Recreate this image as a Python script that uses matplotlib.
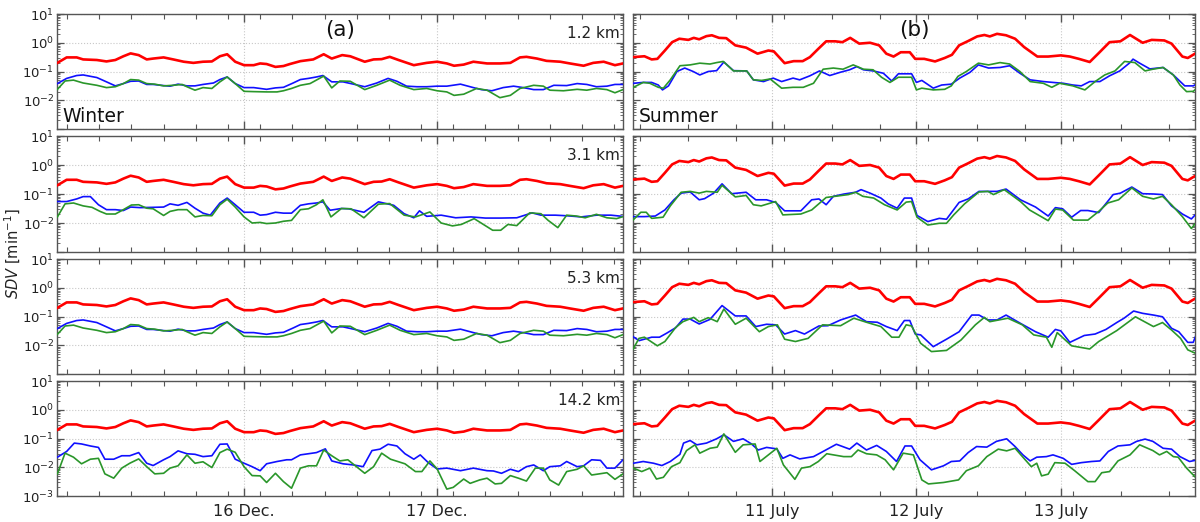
import numpy as np
import matplotlib
matplotlib.use("Agg")
import matplotlib.pyplot as plt
from matplotlib.ticker import FixedLocator, LogLocator, NullFormatter

plt.rcParams['font.family'] = ['DejaVu Sans']

# ---------------- data (time in hours from 00:00 of first day, values as log10(SDV [min^-1])) ----------
altitudes = ["1.2 km", "3.1 km", "5.3 km", "14.2 km"]
season_names = ["Winter", "Summer"]
panel_letters = ["(a)", "(b)"]
winter_day_ticks = [24, 48]
winter_day_labels = ["16 Dec.", "17 Dec."]
summer_day_ticks = [24, 48, 72]
summer_day_labels = ["11 July", "12 July", "13 July"]
winter_range = [0.75, 71.1]
summer_range = [0.9, 94.3]

# Winter: red (common to all heights)
w_red_t = [0.8,1.95,3.2,4.0,5.7,6.9,8.0,9.0,9.9,10.9,11.9,12.7,14.0,15.2,16.5,17.7,18.9,20.0,21.0,21.9,
           22.9,24.0,25.2,26.0,26.8,27.9,28.9,29.7,31.0,32.6,33.9,34.9,36.2,37.2,39.0,40.1,41.1,42.1,43.2,45.1,
           46.7,48.0,49.2,50.1,51.3,52.5,54.2,55.8,57.1,58.3,59.1,60.4,61.6,63.3,64.5,66.2,67.4,68.7,70.1,71.1]
w_red_log = [-0.70,-0.51,-0.51,-0.58,-0.60,-0.65,-0.60,-0.47,-0.37,-0.43,-0.58,-0.55,-0.51,-0.58,-0.66,-0.70,-0.66,-0.65,-0.47,-0.40,
             -0.66,-0.78,-0.78,-0.72,-0.74,-0.84,-0.81,-0.74,-0.64,-0.58,-0.40,-0.55,-0.43,-0.47,-0.66,-0.58,-0.57,-0.49,-0.60,-0.78,
             -0.70,-0.66,-0.72,-0.80,-0.76,-0.66,-0.72,-0.72,-0.70,-0.51,-0.49,-0.55,-0.63,-0.66,-0.72,-0.80,-0.70,-0.66,-0.78,-0.72]

# Winter 1.2 km
w12_blue_t = [0.8,1.95,3.2,4.0,5.7,6.9,8.0,9.0,9.9,10.9,11.9,12.7,14.0,14.8,15.8,16.9,17.9,18.9,20.2,21.0,
              21.9,22.9,24.0,25.2,26.8,27.9,28.9,30.1,31.0,32.0,33.0,33.8,34.9,36.3,37.6,39.0,40.5,41.9,43.0,44.2,
              45.5,46.7,48.0,49.2,50.9,52.5,53.5,54.8,56.2,57.5,58.7,60.0,61.2,62.5,64.1,65.4,66.6,67.8,69.1,70.1,71.1]
w12_blue_log = [-1.42,-1.24,-1.14,-1.12,-1.21,-1.36,-1.50,-1.42,-1.34,-1.33,-1.45,-1.45,-1.49,-1.51,-1.44,-1.50,-1.50,-1.45,-1.40,-1.28,
                -1.19,-1.42,-1.56,-1.56,-1.62,-1.57,-1.55,-1.40,-1.28,-1.24,-1.19,-1.14,-1.36,-1.36,-1.44,-1.53,-1.40,-1.24,-1.34,-1.51,
                -1.53,-1.53,-1.51,-1.51,-1.44,-1.56,-1.63,-1.67,-1.56,-1.51,-1.56,-1.63,-1.63,-1.48,-1.49,-1.42,-1.45,-1.53,-1.51,-1.45,-1.45]
w12_green_t = [0.8,1.75,2.8,4.0,5.7,6.9,8.0,9.0,9.9,10.9,11.9,12.9,14.0,15.2,16.3,16.9,17.9,18.9,20.0,21.0,
               21.9,22.9,24.0,25.2,26.8,28.1,28.9,29.9,31.0,32.2,33.9,34.9,35.9,37.2,39.0,40.5,42.1,43.4,45.1,46.7,
               48.0,49.2,50.1,51.3,52.9,54.2,55.8,57.1,58.3,60.0,61.2,62.0,63.7,65.4,66.6,67.8,69.1,70.1,71.1]
w12_green_log = [-1.62,-1.33,-1.30,-1.40,-1.48,-1.56,-1.53,-1.42,-1.28,-1.30,-1.42,-1.44,-1.50,-1.48,-1.45,-1.53,-1.65,-1.56,-1.59,-1.36,
                 -1.19,-1.42,-1.69,-1.70,-1.71,-1.71,-1.67,-1.59,-1.48,-1.42,-1.16,-1.57,-1.33,-1.34,-1.63,-1.48,-1.30,-1.48,-1.63,-1.59,
                 -1.67,-1.71,-1.83,-1.79,-1.59,-1.65,-1.91,-1.83,-1.59,-1.48,-1.51,-1.65,-1.67,-1.62,-1.65,-1.59,-1.63,-1.74,-1.63]

# Winter 3.1 km
w31_blue_t = [0.8,1.95,3.2,4.0,4.9,5.9,6.9,8.0,9.0,9.9,11.1,12.7,14.0,14.8,15.8,16.9,17.9,18.9,19.8,21.0,
              21.9,22.9,24.0,25.2,26.0,26.8,27.9,28.9,29.9,31.0,32.0,33.0,33.8,34.7,36.1,37.0,38.9,40.7,42.6,43.9,
              45.1,45.8,46.7,48.5,50.3,52.2,54.0,55.9,57.9,59.8,60.9,62.7,64.1,65.9,67.8,69.6,71.0]
w31_blue_log = [-1.26,-1.26,-1.17,-1.09,-1.09,-1.37,-1.54,-1.54,-1.57,-1.45,-1.47,-1.46,-1.45,-1.34,-1.39,-1.29,-1.49,-1.66,-1.73,-1.31,
                -1.14,-1.37,-1.63,-1.63,-1.73,-1.71,-1.63,-1.66,-1.66,-1.39,-1.34,-1.31,-1.27,-1.56,-1.50,-1.51,-1.63,-1.27,-1.39,-1.68,
                -1.82,-1.58,-1.77,-1.73,-1.82,-1.79,-1.83,-1.83,-1.82,-1.65,-1.73,-1.73,-1.75,-1.79,-1.73,-1.73,-1.77]
w31_green_t = [0.8,1.75,2.8,4.0,5.1,6.1,6.9,8.0,9.0,10.0,10.9,11.9,12.7,14.0,14.8,15.8,16.9,17.9,18.9,20.0,
               21.0,21.9,22.9,24.0,25.0,26.0,26.8,27.9,28.9,29.9,31.0,32.0,33.0,33.8,34.8,36.1,37.3,38.9,40.7,42.1,
               43.9,45.3,47.1,48.5,49.9,51.0,52.6,54.9,55.9,56.8,57.9,59.5,60.9,61.8,63.0,64.1,65.3,66.4,67.8,69.1,70.3,71.2]
w31_green_log = [-1.79,-1.34,-1.31,-1.41,-1.46,-1.60,-1.69,-1.69,-1.54,-1.38,-1.37,-1.49,-1.51,-1.74,-1.60,-1.54,-1.54,-1.79,-1.74,-1.75,
                 -1.37,-1.18,-1.45,-1.79,-2.00,-1.98,-2.02,-2.00,-1.94,-1.91,-1.54,-1.51,-1.37,-1.20,-1.79,-1.50,-1.51,-1.82,-1.35,-1.33,
                 -1.73,-1.79,-1.62,-2.00,-2.10,-2.05,-1.85,-2.25,-2.25,-2.05,-2.09,-1.65,-1.68,-1.91,-2.16,-1.73,-1.76,-1.82,-1.70,-1.82,-1.85,-1.77]

# Winter 5.3 km (reads the same as 1.2 km in the figure)
w53_blue_t = list(w12_blue_t)
w53_blue_log = list(w12_blue_log)
w53_green_t = list(w12_green_t)
w53_green_log = list(w12_green_log)

# Winter 14.2 km
w142_blue_t = [0.8,1.95,2.9,3.8,4.9,5.9,6.7,7.8,8.8,9.8,10.9,11.9,12.7,14.0,14.8,15.8,16.9,17.9,18.9,20.0,
               21.0,21.9,22.9,24.0,25.0,26.0,26.8,28.1,29.3,29.9,31.0,32.0,33.0,34.1,34.9,36.3,37.6,38.8,39.9,40.9,
               41.9,43.0,44.0,45.1,45.9,46.9,48.0,49.2,50.9,52.5,54.2,55.0,56.0,57.1,58.1,59.1,60.0,61.2,62.0,63.3,
               64.1,65.4,66.2,67.2,68.3,69.1,70.1,71.1]
w142_blue_log = [-1.65,-1.45,-1.16,-1.19,-1.26,-1.31,-1.72,-1.72,-1.60,-1.60,-1.49,-1.86,-1.94,-1.74,-1.63,-1.43,-1.53,-1.55,-1.63,-1.60,
                 -1.20,-1.19,-1.72,-1.86,-1.98,-2.12,-1.88,-1.80,-1.74,-1.74,-1.57,-1.53,-1.49,-1.36,-1.78,-1.88,-1.92,-1.98,-1.42,-1.37,
                 -1.20,-1.26,-1.53,-1.72,-1.57,-1.84,-2.06,-2.03,-2.12,-2.03,-2.12,-2.13,-2.21,-2.07,-2.15,-1.98,-1.92,-2.12,-1.98,-1.95,
                 -1.80,-1.98,-1.95,-1.74,-1.76,-2.03,-2.03,-1.74]
w142_green_t = [0.8,1.75,2.8,3.8,4.9,5.9,6.7,7.8,8.8,9.8,10.9,11.9,12.9,14.0,14.8,15.8,16.9,17.9,18.9,20.0,
                21.0,21.9,22.9,24.0,25.0,26.0,26.8,27.9,28.9,29.9,31.0,32.0,33.0,33.9,34.9,35.9,36.9,39.0,40.1,41.1,
                42.2,44.0,45.3,46.1,47.1,48.0,49.2,50.0,51.3,52.1,53.3,54.2,55.2,56.0,57.1,58.1,59.1,60.2,61.2,62.0,
                63.1,64.1,65.4,66.2,67.2,69.1,70.1,71.1]
w142_green_log = [-2.23,-1.51,-1.65,-1.88,-1.72,-1.69,-2.23,-2.38,-2.03,-1.86,-1.71,-1.98,-2.23,-2.21,-2.03,-1.95,-1.57,-1.86,-1.81,-2.01,
                  -1.49,-1.37,-1.48,-1.98,-2.29,-2.30,-2.53,-2.21,-2.50,-2.73,-2.03,-1.95,-1.95,-1.40,-1.60,-1.78,-1.74,-2.21,-1.98,-1.51,
                  -1.72,-1.88,-2.15,-2.15,-1.78,-2.06,-2.76,-2.70,-2.41,-2.56,-2.44,-2.38,-2.58,-2.56,-2.29,-2.38,-2.48,-2.03,-2.03,-2.44,
                  -2.62,-2.15,-2.07,-1.95,-2.27,-2.19,-2.42,-2.23]

# Summer: red (common to all heights)
s_red_t = [0.9,2.8,4.0,4.95,6.2,7.4,8.6,10.1,11.0,11.9,13.1,14.0,15.2,16.4,17.9,19.7,21.6,23.4,24.3,26.1,
           27.6,29.1,30.3,31.8,33.0,34.5,35.7,37.0,38.5,40.3,41.8,43.0,44.2,45.4,46.9,47.8,49.3,51.1,52.7,53.9,
           55.1,56.6,58.1,59.3,60.2,61.4,62.9,64.4,65.9,68.1,69.9,72.0,73.5,75.0,76.8,78.3,80.1,81.9,83.5,85.6,
           87.1,89.2,90.4,92.2,93.1,94.3]
s_red_log = [-0.50,-0.47,-0.58,-0.56,-0.27,0.02,0.14,0.10,0.17,0.12,0.23,0.26,0.17,0.16,-0.09,-0.17,-0.38,-0.27,-0.30,-0.71,
             -0.64,-0.64,-0.50,-0.19,0.05,0.05,0.02,0.17,-0.03,0.00,-0.09,-0.38,-0.48,-0.33,-0.33,-0.56,-0.56,-0.65,-0.53,-0.42,
             -0.09,0.06,0.22,0.27,0.22,0.31,0.26,0.14,-0.15,-0.48,-0.48,-0.44,-0.48,-0.56,-0.67,-0.36,0.02,0.05,0.27,0.00,
             0.10,0.08,-0.03,-0.48,-0.53,-0.38]

# Summer 1.2 km
s12_blue_t = [0.97,2.6,4.0,5.1,5.8,6.8,8.2,9.5,10.9,12.0,13.4,14.8,16.0,17.6,19.8,20.9,22.6,24.2,25.6,27.5,
              28.6,30.3,31.9,33.6,35.3,36.9,38.1,39.2,40.8,42.5,43.9,45.0,46.4,47.2,48.0,48.9,50.8,52.2,53.8,55.2,
              56.9,58.3,60.0,61.9,63.5,65.2,66.9,69.1,70.7,72.4,74.0,75.4,76.8,78.5,80.1,81.8,83.5,84.0,85.1,86.8,
              89.0,90.7,92.6,94.0,94.8]
s12_blue_log = [-1.41,-1.38,-1.38,-1.47,-1.64,-1.50,-1.00,-0.88,-1.00,-1.12,-1.00,-0.97,-0.67,-0.97,-0.98,-1.29,-1.35,-1.23,-1.35,-1.23,
                -1.29,-1.15,-0.98,-1.14,-1.03,-0.94,-0.83,-0.94,-0.98,-1.06,-1.33,-1.08,-1.08,-1.08,-1.38,-1.31,-1.58,-1.47,-1.44,-1.23,
                -1.03,-0.77,-0.88,-0.86,-0.80,-1.06,-1.29,-1.35,-1.38,-1.41,-1.47,-1.50,-1.35,-1.35,-1.15,-0.98,-0.69,-0.57,-0.71,-0.91,
                -0.86,-1.12,-1.50,-1.50,-1.41]
s12_green_t = [0.97,2.6,3.7,5.1,5.95,7.1,8.7,10.4,12.0,13.7,14.8,15.9,17.6,19.8,20.9,22.3,23.7,25.6,27.5,29.2,
               30.9,32.5,34.2,35.8,37.5,39.2,40.8,42.2,43.6,45.0,46.4,47.2,48.0,48.9,50.8,52.7,53.8,54.9,56.3,58.3,
               60.0,61.9,63.5,65.2,66.9,69.1,70.5,71.8,74.0,76.0,77.7,79.3,81.0,82.6,84.3,86.0,87.3,89.0,90.7,91.8,
               92.9,94.0,94.8]
s12_green_log = [-1.55,-1.38,-1.41,-1.55,-1.58,-1.29,-0.80,-0.77,-0.71,-0.74,-0.69,-0.65,-0.98,-0.98,-1.29,-1.31,-1.26,-1.58,-1.55,-1.55,
                 -1.41,-0.92,-0.88,-0.92,-0.77,-0.92,-0.94,-1.20,-1.38,-1.20,-1.20,-1.20,-1.64,-1.58,-1.64,-1.62,-1.50,-1.17,-1.00,-0.71,
                 -0.77,-0.69,-0.74,-1.00,-1.35,-1.41,-1.55,-1.41,-1.50,-1.64,-1.35,-1.12,-0.98,-0.65,-0.69,-0.98,-0.92,-0.86,-1.12,-1.47,
                 -1.70,-1.69,-1.55]

# Summer 3.1 km
s31_blue_t = [0.9,2.8,4.6,6.2,7.7,8.9,10.4,11.9,12.8,14.3,15.7,17.3,19.7,21.3,23.1,24.6,26.1,28.8,30.6,31.8,
              33.0,34.2,36.0,37.9,38.8,40.3,42.1,43.3,44.8,46.0,47.2,48.1,49.9,51.8,53.0,55.1,56.6,58.4,59.9,61.4,
              62.9,65.3,67.8,69.9,71.1,72.3,73.8,75.3,76.5,78.3,80.7,81.9,83.8,85.6,87.4,88.9,90.4,92.2,93.7,94.6]
s31_blue_log = [-1.78,-1.78,-1.76,-1.55,-1.20,-0.97,-0.93,-1.20,-1.16,-0.97,-0.65,-0.99,-0.94,-1.20,-1.20,-1.29,-1.58,-1.58,-1.20,-1.17,
                -1.37,-1.08,-1.00,-0.94,-0.85,-0.97,-1.14,-1.34,-1.49,-1.14,-1.14,-1.74,-1.95,-1.84,-1.87,-1.29,-1.17,-0.91,-0.91,-0.91,
                -0.83,-1.20,-1.45,-1.76,-1.47,-1.51,-1.80,-1.57,-1.57,-1.64,-1.02,-0.97,-0.76,-0.99,-1.00,-1.02,-1.41,-1.69,-1.86,-1.66]
s31_green_t = [0.9,2.2,3.1,4.0,5.9,7.1,8.9,10.4,11.9,13.1,14.9,15.7,17.9,19.7,20.9,22.2,24.6,25.8,28.8,30.6,
               33.0,36.7,37.9,39.1,40.9,42.7,44.8,46.3,47.2,48.1,49.9,51.8,53.0,54.2,56.0,58.4,59.9,60.8,62.6,65.3,
               66.8,69.9,71.1,72.3,74.1,76.5,78.3,79.8,81.6,83.8,85.6,87.4,88.9,90.4,92.2,93.7,94.6]
s31_green_log = [-1.90,-1.63,-1.63,-1.84,-1.80,-1.41,-0.94,-0.91,-0.97,-0.91,-0.94,-0.70,-1.10,-1.05,-1.37,-1.41,-1.26,-1.72,-1.69,-1.55,
                 -1.12,-1.02,-0.94,-1.08,-1.14,-1.37,-1.55,-1.28,-1.26,-1.80,-2.07,-2.01,-2.01,-1.72,-1.34,-0.93,-0.91,-1.02,-0.85,-1.26,
                 -1.55,-1.92,-1.52,-1.55,-1.90,-1.90,-1.60,-1.31,-1.20,-0.79,-1.08,-1.17,-1.08,-1.37,-1.78,-2.19,-1.95]

# Summer 5.3 km
s53_blue_t = [0.9,1.9,4.0,5.3,6.5,8.0,9.2,10.4,11.9,13.7,15.7,17.9,19.7,21.3,23.1,24.6,26.1,27.9,29.4,31.8,
              33.3,35.4,37.9,39.7,41.5,43.0,44.8,46.0,46.9,47.8,48.7,50.8,53.0,55.1,57.2,58.4,59.9,61.4,62.9,65.3,
              67.8,69.9,71.1,72.0,73.5,75.9,77.7,79.5,81.3,82.5,84.1,85.6,87.4,88.9,90.4,91.6,93.1,94.0,94.6]
s53_blue_log = [-1.70,-1.84,-1.72,-1.72,-1.58,-1.39,-1.09,-1.09,-1.26,-1.10,-0.62,-0.98,-0.98,-1.35,-1.27,-1.29,-1.61,-1.49,-1.61,-1.33,
                -1.32,-1.12,-0.95,-1.18,-1.20,-1.35,-1.49,-1.14,-1.14,-1.61,-1.64,-2.05,-1.79,-1.53,-0.95,-0.95,-1.12,-1.12,-0.95,-1.24,
                -1.53,-1.72,-1.45,-1.50,-1.90,-1.66,-1.61,-1.45,-1.21,-1.06,-0.81,-0.89,-0.95,-1.01,-1.41,-1.53,-1.90,-1.90,-1.58]
s53_green_t = [0.9,1.9,2.8,4.95,6.2,8.0,9.2,11.0,11.9,13.4,14.9,16.0,17.9,19.7,21.9,23.4,24.9,26.1,27.9,30.0,
               32.4,35.4,37.6,39.7,42.1,43.9,45.1,46.3,47.2,48.7,50.5,53.0,55.4,57.8,59.3,60.2,63.2,65.6,67.5,69.6,
               70.5,71.4,73.8,76.8,78.3,81.3,84.4,85.9,87.4,88.9,90.4,91.9,93.1,94.6]
s53_green_log = [-2.14,-1.76,-1.72,-2.02,-1.87,-1.38,-1.18,-1.03,-1.18,-1.04,-1.18,-0.74,-1.27,-1.06,-1.53,-1.35,-1.29,-1.79,-1.87,-1.76,
                 -1.29,-1.32,-1.06,-1.20,-1.35,-1.72,-1.72,-1.29,-1.33,-1.93,-2.22,-2.18,-1.82,-1.29,-1.03,-1.18,-1.06,-1.29,-1.64,-1.72,
                 -2.07,-1.56,-2.02,-2.13,-1.87,-1.49,-1.01,-1.18,-1.35,-1.21,-1.47,-1.76,-2.16,-2.30]

# Summer 14.2 km
s142_blue_t = [0.97,2.6,4.3,5.7,7.1,8.7,9.3,10.4,11.5,13.1,14.8,16.0,17.6,19.2,20.6,21.7,23.1,24.8,25.8,27.0,
               28.6,30.9,32.5,34.7,36.9,38.1,39.7,41.4,43.0,44.7,46.1,47.2,48.6,50.5,52.5,53.8,55.2,56.6,58.0,59.7,
               61.3,63.0,64.4,65.7,66.9,68.0,69.6,70.7,72.4,73.8,75.4,77.1,78.5,79.9,81.5,83.5,84.6,86.0,87.3,89.0,
               90.4,91.8,93.4,94.8]
s142_blue_log = [-1.86,-1.80,-1.86,-1.94,-1.80,-1.55,-1.16,-1.07,-1.22,-1.16,-1.01,-0.87,-1.10,-1.01,-1.19,-1.40,-1.31,-1.36,-1.69,-1.57,
                 -1.71,-1.63,-1.45,-1.20,-1.37,-1.16,-1.40,-1.24,-1.45,-1.80,-1.26,-1.26,-1.74,-2.09,-1.95,-1.80,-1.78,-1.49,-1.28,-1.30,
                 -1.10,-1.01,-1.28,-1.57,-1.78,-1.65,-1.63,-1.57,-1.69,-1.90,-1.84,-1.80,-1.78,-1.45,-1.26,-1.22,-1.10,-1.02,-1.10,-1.34,
                 -1.37,-1.63,-1.80,-1.74]
s142_green_t = [0.97,2.35,3.7,4.8,5.95,7.3,8.7,9.8,11.2,12.0,13.7,14.9,16.0,17.9,19.2,21.2,22.0,23.4,24.8,25.9,
                27.8,28.9,30.3,31.7,33.1,35.9,37.2,38.3,39.7,41.4,42.8,44.2,45.8,47.5,48.9,50.0,52.5,55.0,56.3,58.3,
                59.7,61.6,63.0,64.4,65.7,67.1,68.0,68.8,69.9,71.0,72.7,74.3,76.5,77.7,78.8,80.1,81.5,83.5,85.1,87.3,
                88.4,89.6,90.7,91.5,92.9,94.8]
s142_green_log = [-2.03,-2.15,-2.03,-2.41,-2.35,-1.98,-1.84,-1.42,-1.22,-1.51,-1.34,-1.30,-0.84,-1.48,-1.22,-1.19,-1.80,-1.57,-1.34,-1.92,
                  -2.42,-2.03,-1.98,-1.80,-1.53,-1.63,-1.63,-1.40,-1.53,-1.57,-1.74,-2.09,-1.51,-1.57,-2.44,-2.58,-2.53,-2.44,-2.12,-1.95,
                  -1.63,-1.37,-1.43,-1.34,-1.65,-1.98,-1.86,-2.30,-2.24,-1.84,-1.86,-2.12,-2.50,-2.50,-2.19,-2.15,-1.78,-1.57,-1.22,-1.42,
                  -1.57,-1.45,-1.63,-1.65,-2.03,-2.44]

winter_series = [(w12_blue_t, w12_blue_log, w12_green_t, w12_green_log),
                 (w31_blue_t, w31_blue_log, w31_green_t, w31_green_log),
                 (w53_blue_t, w53_blue_log, w53_green_t, w53_green_log),
                 (w142_blue_t, w142_blue_log, w142_green_t, w142_green_log)]
summer_series = [(s12_blue_t, s12_blue_log, s12_green_t, s12_green_log),
                 (s31_blue_t, s31_blue_log, s31_green_t, s31_green_log),
                 (s53_blue_t, s53_blue_log, s53_green_t, s53_green_log),
                 (s142_blue_t, s142_blue_log, s142_green_t, s142_green_log)]

# ---------------- figure ----------------
W, H = 1200, 522
fig = plt.figure(figsize=(W / 100, H / 100), dpi=100)

col_x = [(57, 623), (633, 1195)]
row_y = [(14, 129), (136, 252), (259, 374), (381, 496)]

RED, BLUE, GREEN = "#ff0000", "#1010ff", "#2a962a"
SPINE = "#555555"
TXT = "#222222"
ylabels_full = [r"$\mathdefault{10^{-3}}$", r"$\mathdefault{10^{-2}}$", r"$\mathdefault{10^{-1}}$",
                r"$\mathdefault{10^{0}}$", r"$\mathdefault{10^{1}}$"]
yvals = [1e-3, 1e-2, 1e-1, 1e0, 1e1]

for c in range(2):
    x0, x1 = col_x[c]
    if c == 0:
        red_t, red_log = w_red_t, w_red_log
        series = winter_series
        xr = winter_range
        maj, majlab = winter_day_ticks, winter_day_labels
        minor = [h for h in range(2, 72, 4)]
    else:
        red_t, red_log = s_red_t, s_red_log
        series = summer_series
        xr = summer_range
        maj, majlab = summer_day_ticks, summer_day_labels
        minor = [h for h in range(2, 96, 8)]
    for r in range(4):
        y0, y1 = row_y[r]
        ax = fig.add_axes([x0 / W, 1 - y1 / H, (x1 - x0) / W, (y1 - y0) / H])
        bt, bl, gt, gl = series[r]
        ax.plot(red_t, 10 ** np.array(red_log), color=RED, lw=1.9, zorder=3)
        ax.plot(bt, 10 ** np.array(bl), color=BLUE, lw=1.2, zorder=4)
        ax.plot(gt, 10 ** np.array(gl), color=GREEN, lw=1.2, zorder=5)
        ax.set_yscale("log")
        ax.set_ylim(1e-3, 1e1)
        ax.set_xlim(xr[0], xr[1])
        ax.yaxis.set_major_locator(FixedLocator(yvals))
        ax.yaxis.set_minor_locator(LogLocator(base=10, subs=np.arange(2, 10)))
        ax.yaxis.set_minor_formatter(NullFormatter())
        if c == 0:
            labs = list(ylabels_full)
            if r < 3:
                labs[0] = ""
            ax.set_yticklabels(labs)
        else:
            ax.set_yticklabels([])
        ax.xaxis.set_major_locator(FixedLocator(maj))
        ax.xaxis.set_minor_locator(FixedLocator(minor))
        if r == 3:
            ax.set_xticklabels(majlab)
        else:
            ax.set_xticklabels([])
        ax.tick_params(axis="both", which="both", direction="in", top=True, right=True,
                       colors=SPINE, labelcolor=TXT, labelsize=9.5)
        ax.tick_params(axis="x", which="major", length=6, width=1.0, labelsize=11.5, pad=6)
        ax.tick_params(axis="x", which="minor", length=3.5, width=0.8)
        ax.tick_params(axis="y", which="major", length=5, width=0.9, pad=2)
        ax.tick_params(axis="y", which="minor", length=2.5, width=0.6)
        ax.grid(True, which="major", axis="both", color="#c8c8c8", linestyle=":", linewidth=0.8)
        for sp in ax.spines.values():
            sp.set_color(SPINE)
            sp.set_linewidth(1.0)
        if c == 0:
            ax.text(0.995, 0.83, altitudes[r], transform=ax.transAxes, ha="right", va="center",
                    fontsize=11, color=TXT)
        if r == 0:
            ax.text(0.5, 0.86, panel_letters[c], transform=ax.transAxes, ha="center", va="center",
                    fontsize=15.5, color="#111111")
            ax.text(0.010, 0.11, season_names[c], transform=ax.transAxes, ha="left", va="center",
                    fontsize=13.5, color="#111111")

fig.text(0.011, 0.515, r"$\it{SDV}$ [min$^{-1}$]", rotation=90, ha="center", va="center",
         fontsize=10.5, color=TXT)

fig.savefig("out.png", dpi=100)
